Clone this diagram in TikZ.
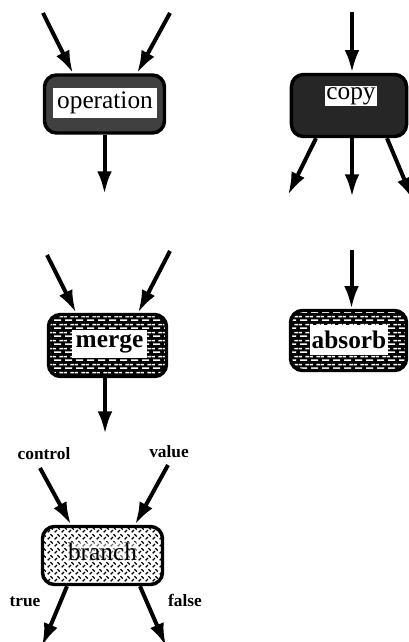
\documentclass[tikz,border=0pt]{standalone}
\usepackage{fontspec}
\setmainfont{Liberation Serif}
\usetikzlibrary{arrows.meta,patterns.meta,calc}

\tikzdeclarepattern{
	name = dashrows,
	type = uncolored,
	bottom left = {(0pt,0pt)},
	top right = {(8pt,6pt)},
	tile size = {(8pt,6pt)},
	code = {
		\draw[line width = 1.3pt] (0.8pt,1.5pt) -- (6.2pt,1.5pt);
		\draw[line width = 1.3pt] (4.8pt,4.5pt) -- (8pt,4.5pt) (0pt,4.5pt) -- (2.2pt,4.5pt);
	}
}
\tikzdeclarepattern{
	name = crossdash,
	type = uncolored,
	bottom left = {(0pt,0pt)},
	top right = {(5pt,5pt)},
	tile size = {(5pt,5pt)},
	code = {
		\draw[line width = 1pt] (0.5pt,0.5pt) -- (2.3pt,2.3pt);
		\draw[line width = 1pt] (2.7pt,4.5pt) -- (4.5pt,2.7pt);
	}
}

\tikzset{
	unit/.style   = {draw, line width = 2.6pt, rounded corners = 9pt,
		inner sep = 0pt},
	bricks/.style = {preaction = {fill = black}, pattern = dashrows,
		pattern color = white},
	hatch/.style  = {preaction = {fill = white}, pattern = crossdash,
		pattern color = black},
	word/.style   = {fill = white, inner sep = 1pt,
		font = \fontsize{19}{21}\selectfont},
	tag/.style    = {font = \bfseries\fontsize{13}{15}\selectfont},
	flow/.style   = {line width = 3pt, -{Latex[length = 17pt, width = 11pt]}}
}

\begin{document}
\begin{tikzpicture}[x = 0.75pt, y = -0.75pt]
	\useasboundingbox (0,0) rectangle (409,642);

	\draw
	% the five units
	node at (104.5,104) [unit, fill = black!75, minimum width = 90pt,
		minimum height = 43.5pt] (op) {}
	node at (105,103) [word, minimum width = 78pt, minimum height = 22pt] (op-t) {operation}
	node at (349,105.5) [unit, fill = black!85, minimum width = 86.3pt,
		minimum height = 46.5pt] (cp) {}
	node at (351,96) [word] (cp-t) {copy}
	node at (107.5,345.5) [unit, bricks, minimum width = 88.5pt,
		minimum height = 46.5pt] (mg) {}
	node at (109.5,344) [word, font = \bfseries\fontsize{19}{21}\selectfont,
		minimum width = 56pt, minimum height = 21pt] (mg-t) {merge}
	node at (348.5,340.5) [unit, bricks, minimum width = 87pt,
		minimum height = 45pt] (ab) {}
	node at (349,340) [word, font = \bfseries\fontsize{19}{21}\selectfont,
		minimum width = 58.5pt, minimum height = 22.5pt] (ab-t) {absorb}
	node at (102.5,555.5) [unit, hatch, minimum width = 90pt,
		minimum height = 43.5pt] (br) {}
	node at (102.5,552) [word, fill = white, fill opacity = 0.45,
		text opacity = 1] (br-t) {branch};

	% labels of the branch
	\draw
	node at (44,454) [tag] (l-ctl) {control}
	node at (169,452) [tag] (l-val) {value}
	node at (25,602) [tag] (l-t) {true}
	node at (185,600) [tag] (l-f) {false};

	% free ends
	\coordinate (op-a) at (43,13);
	\coordinate (op-b) at (170,13);
	\coordinate (op-o) at (104.5,194);
	\coordinate (cp-a) at (352,12);
	\coordinate (cp-l) at (288,195);
	\coordinate (cp-m) at (352,197);
	\coordinate (cp-r) at (413,200);
	\coordinate (mg-a) at (47,255);
	\coordinate (mg-b) at (170,251);
	\coordinate (mg-o) at (105,434);
	\coordinate (ab-a) at (351.5,250);
	\coordinate (br-a) at (40,468);
	\coordinate (br-b) at (168,465);
	\coordinate (br-l) at (42,646);
	\coordinate (br-r) at (166,646);

	\draw[flow] (op-a) -- ($(op.north)+(-31.5,0)$);
	\draw[flow] (op-b) -- ($(op.north)+(32.5,0)$);
	\draw[flow] (op.south) -- (op-o);

	\draw[flow] (cp-a) -- ($(cp.north)+(3,0)$);
	\draw[flow] ($(cp.south)+(-33,0)$) -- (cp-l);
	\draw[flow] ($(cp.south)+(3,0)$) -- (cp-m);
	\draw[flow] ($(cp.south)+(38,0)$) -- (cp-r);

	\draw[flow] (mg-a) -- ($(mg.north)+(-31.5,0)$);
	\draw[flow] (mg-b) -- ($(mg.north)+(30.5,0)$);
	\draw[flow] ($(mg.south)+(-2.5,0)$) -- (mg-o);

	\draw[flow] (ab-a) -- ($(ab.north)+(3,0)$);

	\draw[flow] (br-a) -- ($(br.north)+(-31.5,0)$);
	\draw[flow] (br-b) -- ($(br.north)+(32.5,0)$);
	\draw[flow] ($(br.south)+(-35.5,0)$) -- (br-l);
	\draw[flow] ($(br.south)+(37.5,0)$) -- (br-r);

\end{tikzpicture}
\end{document}
